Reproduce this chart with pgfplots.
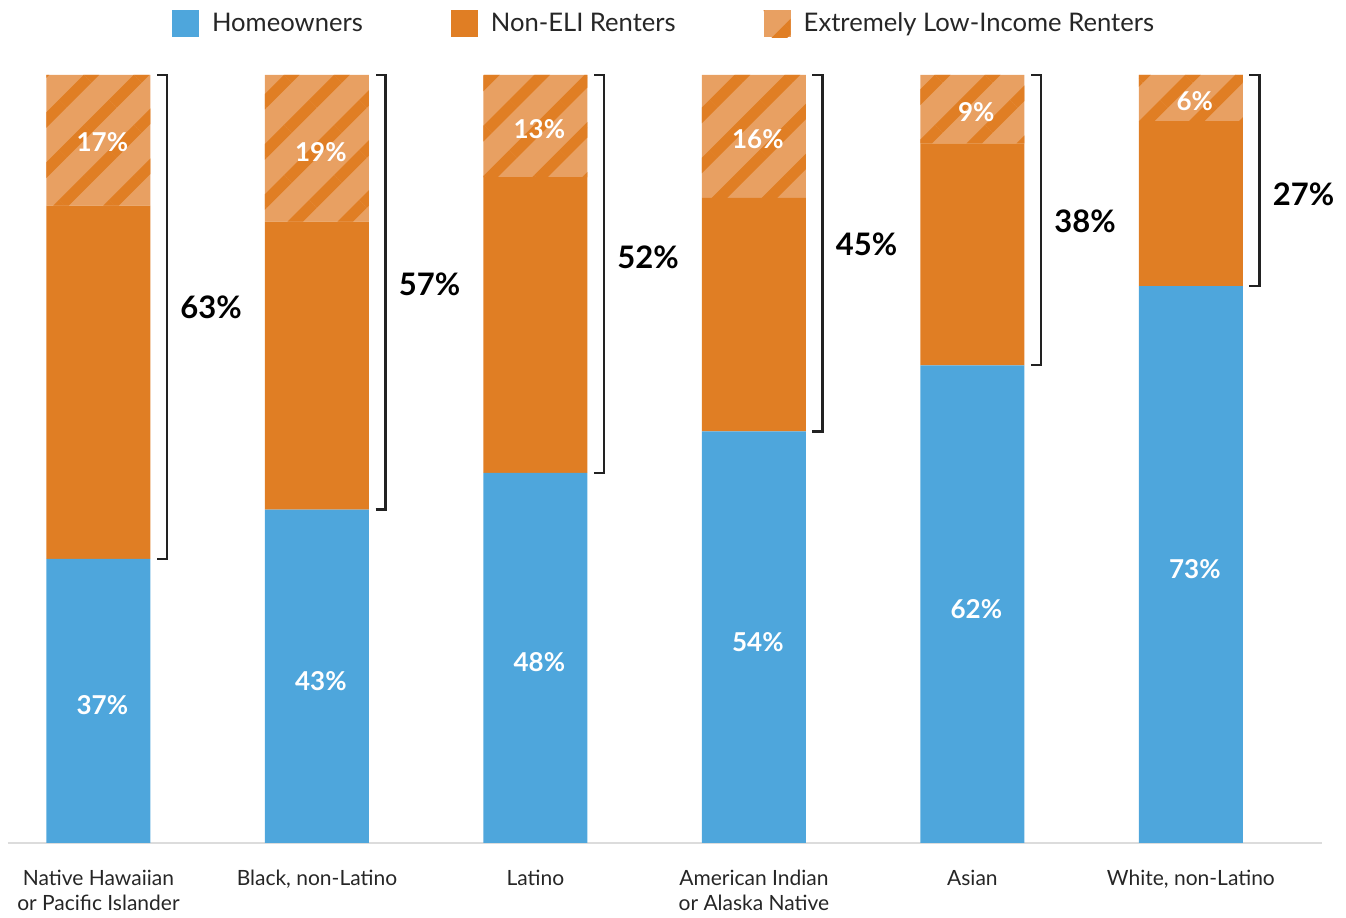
\documentclass[border=0pt]{standalone}
\usepackage{pgfplots}
\pgfplotsset{compat=1.18}
\usepackage{pgfplotstable}
\usepackage{fontspec}
\setmainfont{Lato}
\usetikzlibrary{patterns.meta}
\definecolor{hblue}{RGB}{78,166,220}
\definecolor{rorange}{RGB}{224,126,36}
\definecolor{lorange}{RGB}{232,160,98}
\definecolor{brk}{RGB}{34,34,34}
\definecolor{basel}{RGB}{220,220,220}

\pgfplotstableread{
x home noneli eli hl el tl ty hm em
0 37.0 46.0 17.0 37 17 63 69.8 17.9 91.2
1 43.4 37.5 19.1 43 19 57 72.8 21.1 90.0
2 48.2 38.5 13.3 48 13 52 76.3 23.5 93.0
3 53.6 30.4 16.0 54 16 45 77.9 26.2 91.7
4 62.2 28.9 8.9 62 9 38 81.0 30.5 95.2
5 72.5 21.5 6.0 73 6 27 84.4 35.6 96.6
}\data

\pgfplotsset{
  geom/.style={
    at={(4pt,35pt)}, anchor=south west,
    scale only axis, width=657pt, height=384pt,
    xmin=-0.414, xmax=5.6, ymin=0, ymax=100,
  },
  legswatch/.style={legend image code/.code={\path[##1,draw=none] (0pt,-6.75pt) rectangle (13.5pt,6.75pt); \path (18pt,0pt);}},
}

\begin{document}
\begin{tikzpicture}
\path (0,0) rectangle (673pt,456.5pt);
\begin{axis}[geom,
  ybar stacked, bar width=52pt,
  axis x line=bottom, axis y line=none,
  x axis line style={basel, line width=1.2pt, -},
  xtick={0,1,2,3,4,5},
  xticklabels={{Native Hawaiian\\or Pacific Islander},{Black, non-Latino},{Latino},{American Indian\\or Alaska Native},{Asian},{White, non-Latino}},
  xticklabel style={align=center, anchor=north, yshift=-10pt, font=\fontsize{10.5}{12.5}\selectfont, text=black!85},
  major tick length=0pt,
  ytick=\empty,
  legend columns=3,
  legend style={at={(0.5,1)}, anchor=center, xshift=0pt, yshift=25.5pt, draw=none, fill=none,
    font=\fontsize{12.8}{15}\selectfont, text=black!85,
    /tikz/every even column/.append style={column sep=42pt}},
]
\addplot[fill=hblue, draw=none, legswatch] table[x=x, y=home]{\data};
\addlegendentry{Homeowners}
\addplot[fill=rorange, draw=none, legswatch] table[x=x, y=noneli]{\data};
\addlegendentry{Non-ELI Renters}
\addplot[fill=lorange, draw=none, legswatch,
  postaction={pattern={Lines[angle=45,distance=17.7pt,line width=5.5pt]}, pattern color=rorange}] table[x=x, y=eli]{\data};
\addlegendentry{Extremely Low-Income Renters}
\end{axis}

\begin{axis}[geom, clip=false, axis lines=none, xtick=\empty, ytick=\empty]
\addplot[brk, line width=1.2pt, line join=miter] coordinates {(0.268,37.0)(0.313,37.0)(0.313,100)(0.268,100)};
\addplot[brk, line width=1.2pt, line join=miter] coordinates {(1.268,43.4)(1.313,43.4)(1.313,100)(1.268,100)};
\addplot[brk, line width=1.2pt, line join=miter] coordinates {(2.268,48.2)(2.313,48.2)(2.313,100)(2.268,100)};
\addplot[brk, line width=1.2pt, line join=miter] coordinates {(3.268,53.6)(3.313,53.6)(3.313,100)(3.268,100)};
\addplot[brk, line width=1.2pt, line join=miter] coordinates {(4.268,62.2)(4.313,62.2)(4.313,100)(4.268,100)};
\addplot[brk, line width=1.2pt, line join=miter] coordinates {(5.268,72.5)(5.313,72.5)(5.313,100)(5.268,100)};
% bracket labels
\addplot[draw=none, mark=none, nodes near coords={\pgfplotspointmeta\%}, point meta=explicit symbolic,
  every node near coord/.append style={anchor=west, inner sep=0pt, font=\fontsize{15.5}{18}\bfseries\selectfont, black}]
  table[x expr=\thisrow{x}+0.373, y=ty, meta=tl]{\data};
% homeowner labels
\addplot[draw=none, mark=none, nodes near coords={\pgfplotspointmeta\%}, point meta=explicit symbolic,
  every node near coord/.append style={anchor=center, inner sep=0pt, font=\fontsize{13}{15}\bfseries\selectfont, white}]
  table[x expr=\thisrow{x}+0.018, y=hm, meta=hl]{\data};
% ELI labels
\addplot[draw=none, mark=none, nodes near coords={\pgfplotspointmeta\%}, point meta=explicit symbolic,
  every node near coord/.append style={anchor=center, inner sep=0pt, font=\fontsize{13}{15}\bfseries\selectfont, white}]
  table[x expr=\thisrow{x}+0.018, y=em, meta=el]{\data};
\end{axis}
\end{tikzpicture}
\end{document}
